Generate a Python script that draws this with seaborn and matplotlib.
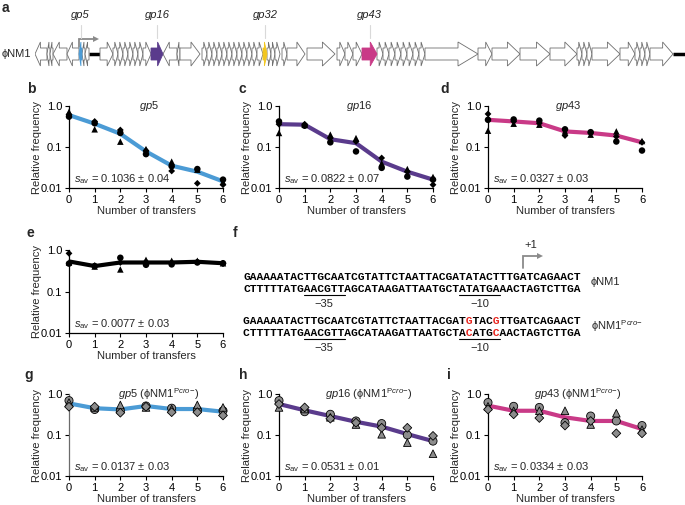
import matplotlib
matplotlib.use("Agg")
import matplotlib.pyplot as plt
import numpy as np
import pandas as pd
import seaborn as sns
from matplotlib.patches import Polygon
from matplotlib.ticker import NullLocator

# ---------------------------------------------------------------- data
TRANSFERS = [0, 1, 2, 3, 4, 5, 6]
Y_TICKS = [0.01, 0.1, 1.0]
Y_TICK_LABELS = ["0.01", "0.1", "1.0"]

# b: gp5
GP5_CIRCLE = [0.55, 0.38, 0.22, 0.067, 0.034, 0.029, 0.016]
GP5_TRIANGLE = [0.72, 0.27, 0.135, 0.089, 0.044, 0.028, 0.014]
GP5_DIAMOND = [0.62, 0.42, 0.26, 0.082, 0.026, 0.013, 0.012]
GP5_MEAN = [0.60, 0.37, 0.21, 0.078, 0.035, 0.025, 0.0145]

# c: gp16
GP16_CIRCLE = [0.42, 0.33, 0.13, 0.078, 0.031, 0.019, 0.016]
GP16_TRIANGLE = [0.22, 0.35, 0.20, 0.165, 0.040, 0.029, 0.0186]
GP16_DIAMOND = [0.36, 0.36, 0.165, 0.136, 0.054, 0.025, 0.012]
GP16_MEAN = [0.36, 0.35, 0.155, 0.124, 0.044, 0.025, 0.016]

# d: gp43
GP43_CIRCLE = [0.46, 0.47, 0.44, 0.27, 0.23, 0.136, 0.082]
GP43_TRIANGLE = [0.25, 0.37, 0.35, 0.24, 0.20, 0.24, 0.14]
GP43_DIAMOND = [0.64, 0.42, 0.38, 0.19, 0.22, 0.18, 0.13]
GP43_MEAN = [0.46, 0.42, 0.38, 0.24, 0.22, 0.19, 0.13]

# e: gp32
GP32_CIRCLE = [0.47, 0.41, 0.65, 0.44, 0.45, 0.50, 0.48]
GP32_TRIANGLE = [0.50, 0.40, 0.34, 0.58, 0.55, 0.55, 0.48]
GP32_DIAMOND = [0.83, 0.42, 0.50, 0.52, 0.50, 0.52, 0.47]
GP32_MEAN = [0.53, 0.41, 0.50, 0.50, 0.50, 0.52, 0.48]

# g: gp5 (phiNM1 Pcro-)
GP5M_CIRCLE = [0.69, 0.42, 0.39, 0.51, 0.45, 0.41, 0.39]
GP5M_TRIANGLE = [0.62, 0.47, 0.54, 0.47, 0.43, 0.54, 0.47]
GP5M_DIAMOND = [0.49, 0.49, 0.35, 0.49, 0.36, 0.36, 0.30]
GP5M_MEAN = [0.59, 0.45, 0.42, 0.51, 0.43, 0.43, 0.37]

# h: gp16 (phiNM1 Pcro-)
GP16M_CIRCLE = [0.69, 0.37, 0.32, 0.22, 0.19, 0.10, 0.071]
GP16M_TRIANGLE = [0.47, 0.43, 0.27, 0.18, 0.104, 0.065, 0.035]
GP16M_DIAMOND = [0.57, 0.47, 0.25, 0.20, 0.15, 0.15, 0.095]
GP16M_MEAN = [0.57, 0.40, 0.29, 0.21, 0.16, 0.105, 0.071]

# i: gp43 (phiNM1 Pcro-)
GP43M_CIRCLE = [0.62, 0.50, 0.47, 0.20, 0.29, 0.22, 0.17]
GP43M_TRIANGLE = [0.50, 0.39, 0.39, 0.39, 0.18, 0.34, 0.135]
GP43M_DIAMOND = [0.42, 0.32, 0.26, 0.17, 0.22, 0.11, 0.11]
GP43M_MEAN = [0.52, 0.39, 0.39, 0.27, 0.22, 0.22, 0.14]

# a: genome map, (start, end, strand, label) in map units
GENOME_GENES = [
    (0, 12, -1, ""), (12, 15, -1, ""), (15, 18, -1, ""), (18, 32, -1, ""),
    (32, 44, -1, ""), (44, 47, -1, "gp5"), (47, 50, -1, ""), (50, 54, -1, ""),
    (65, 78, 1, ""), (78, 83, 1, ""), (83, 88, 1, ""), (88, 93, 1, ""),
    (93, 98, 1, ""), (98, 103, 1, ""), (103, 108, 1, ""), (108, 116, 1, ""),
    (116, 128, 1, "gp16"), (128, 142, -1, ""), (142, 145, -1, ""),
    (145, 165, 1, ""), (167, 172, 1, ""), (172, 177, 1, ""), (177, 182, 1, ""),
    (182, 187, 1, ""), (187, 192, 1, ""), (192, 197, 1, ""), (197, 202, 1, ""),
    (202, 207, 1, ""), (207, 212, 1, ""), (212, 217, 1, ""), (217, 222, 1, ""),
    (222, 228, 1, ""), (228, 232, 1, "gp32"), (232, 236, 1, ""),
    (236, 240, 1, ""), (240, 245, 1, ""), (247, 252, 1, ""), (252, 270, 1, ""),
    (272, 300, 1, ""), (302, 310, 1, ""), (310, 318, 1, ""), (318, 327, 1, ""),
    (327, 342, 1, "gp43"), (342, 348, 1, ""), (348, 354, 1, ""),
    (354, 360, 1, ""), (360, 366, 1, ""), (366, 372, 1, ""), (372, 378, 1, ""),
    (378, 384, 1, ""), (384, 390, 1, ""), (390, 443, 1, ""), (443, 457, 1, ""),
    (457, 485, 1, ""), (485, 515, 1, ""), (515, 542, 1, ""), (542, 547, 1, ""),
    (547, 552, 1, ""), (552, 557, 1, ""), (557, 585, 1, ""), (585, 600, 1, ""),
    (600, 605, 1, ""), (605, 610, 1, ""), (610, 615, 1, ""), (615, 638, 1, ""),
]
GENOME_SPACERS = [(54, 65), (638, 650)]
GENE_COLORS = {"gp5": "#4b9bd5", "gp16": "#5a3b8c", "gp32": "#f2c61f", "gp43": "#c93a87"}

# f: promoter sequences
SEQ_WT_TOP = "GAAAAATACTTGCAATCGTATTCTAATTACGATATACTTTGATCAGAACT"
SEQ_WT_BOTTOM = "CTTTTTATGAACGTTAGCATAAGATTAATGCTATATGAAACTAGTCTTGA"
SEQ_MUT_TOP = "GAAAAATACTTGCAATCGTATTCTAATTACGATGTACGTTGATCAGAACT"
SEQ_MUT_BOTTOM = "CTTTTTATGAACGTTAGCATAAGATTAATGCTACATGCAACTAGTCTTGA"
BOX_35 = (9, 15)
BOX_10 = (32, 38)
TSS_INDEX = 41

W, H = 685, 505
GRAY_LINE = "#8a8a8a"


def px_axes(fig, x0, y0, x1, y1):
    return fig.add_axes([x0 / W, 1 - y1 / H, (x1 - x0) / W, (y1 - y0) / H])


def draw_selection(ax, circle, triangle, diamond, mean, color, title, s_av,
                   mutant=False, spine_color="black"):
    ax.set_yscale("log")
    sns.lineplot(x=TRANSFERS, y=mean, ax=ax, color=color, linewidth=3.0,
                 zorder=2, solid_capstyle="round", solid_joinstyle="round")
    df = pd.DataFrame({
        "transfer": TRANSFERS * 3,
        "freq": circle + triangle + diamond,
        "replicate": ["r1"] * 7 + ["r2"] * 7 + ["r3"] * 7,
    })
    if mutant:
        sizes = {"r1": 34, "r2": 30, "r3": 20}
        face, edge, lw = "#8c8c8c", "black", 0.6
    else:
        sizes = {"r1": 22, "r2": 22, "r3": 12}
        face, edge, lw = "black", "black", 0.0
    sns.scatterplot(data=df, x="transfer", y="freq", style="replicate",
                    markers={"r1": "o", "r2": "^", "r3": "D"},
                    size="replicate", sizes=sizes, color=face,
                    edgecolor=edge, linewidth=lw, legend=False, ax=ax,
                    zorder=3, clip_on=False)
    ax.set_xlim(0, 6)
    ax.set_ylim(0.01, 1.0)
    ax.set_xticks(TRANSFERS)
    ax.set_yticks(Y_TICKS)
    ax.set_yticklabels(Y_TICK_LABELS)
    ax.yaxis.set_minor_locator(NullLocator())
    ax.tick_params(labelsize=8, length=3, width=0.8, pad=2)
    ax.set_xlabel("Number of transfers", fontsize=8)
    ax.set_ylabel("Relative frequency", fontsize=8)
    ax.xaxis.set_label_coords(0.5, -0.22)
    ax.yaxis.set_label_coords(-0.175, 0.5)
    sns.despine(ax=ax)
    for side in ["left", "bottom"]:
        ax.spines[side].set_linewidth(0.9)
    ax.spines["left"].set_color(spine_color)
    ax.patch.set_alpha(0)
    if title:
        ax.text(0.58 if mutant else 0.52, 1.0, title, transform=ax.transAxes,
                ha="center", va="center", fontsize=8)
    ax.text(0.03, 0.11, r"$s_{\rm av}$ = " + s_av, transform=ax.transAxes,
            ha="left", va="center", fontsize=8)


def draw_genome(ax):
    body, head = 6, 12
    for start, end, strand, label in GENOME_GENES:
        length = end - start
        hl = min(0.45 * length, 20) if length > 9 else 0.65 * length
        if strand > 0:
            base, tip, neck = start, end, end - hl
        else:
            base, tip, neck = end, start, start + hl
        pts = [(base, -body), (neck, -body), (neck, -head), (tip, 0),
               (neck, head), (neck, body), (base, body)]
        if label:
            c = GENE_COLORS[label]
            ax.add_patch(Polygon(pts, closed=True, facecolor=c, edgecolor=c,
                                 linewidth=0.6, zorder=3))
            mid = (start + end) / 2
            ax.plot([mid, mid], [16, 29], color="#d9d9d9", lw=0.8, clip_on=False)
            ax.text(mid, 39, label, ha="center", va="center", fontsize=8,
                    style="italic", clip_on=False)
        else:
            ax.add_patch(Polygon(pts, closed=True, facecolor="white",
                                 edgecolor="#6e6e6e", linewidth=0.6, zorder=2))
    for start, end in GENOME_SPACERS:
        ax.plot([start, end], [0, 0], color="black", lw=2.5, zorder=1,
                solid_capstyle="butt")
    ax.set_xlim(0, 650)
    ax.set_ylim(-14, 14)
    ax.axis("off")


def bent_arrow(ax, x, y_low, y_high, length):
    ax.plot([x, x, x + length - 3], [y_low, y_high, y_high], color=GRAY_LINE,
            lw=1.3, solid_joinstyle="miter")
    ax.plot([x + length], [y_high], marker=">", color=GRAY_LINE, ms=4.5,
            markeredgewidth=0)


def draw_sequences(ov):
    x0, cw = 243.3, 6.75
    mono = dict(family="Liberation Mono", weight="bold", fontsize=8.1,
                va="center", ha="left")
    blocks = [(SEQ_WT_TOP, SEQ_WT_BOTTOM, 277, 289, 304, "ϕNM1"),
              (SEQ_MUT_TOP, SEQ_MUT_BOTTOM, 321, 333, 348,
               r"ϕNM1$^{\rm P\it{cro}\rm{-}}$")]
    for top, bottom, y_top, y_bot, y_lab, name in blocks:
        for seq, ref, y in [(top, SEQ_WT_TOP, y_top), (bottom, SEQ_WT_BOTTOM, y_bot)]:
            black = "".join(c if c == r else " " for c, r in zip(seq, ref))
            red = "".join(c if c != r else " " for c, r in zip(seq, ref))
            ov.text(x0, y, black, color="black", **mono)
            ov.text(x0, y, red, color="#e8261f", **mono)
        for (a, b), lab in [(BOX_35, "\u221235"), (BOX_10, "\u221210")]:
            ov.plot([x0 + a * cw, x0 + b * cw], [y_bot + 6, y_bot + 6],
                    color="black", lw=0.8)
            ov.text(x0 + (a + b) / 2 * cw, y_lab, lab, ha="center",
                    va="center", fontsize=8)
        ov.text(591, (y_top + y_bot) / 2 - 1, name, ha="left", va="center",
                fontsize=8)
    xt = x0 + (TSS_INDEX + 0.5) * cw
    bent_arrow(ov, xt, 268, 256, 17)
    ov.text(xt + 7, 245, "+1", ha="center", va="center", fontsize=8)


def main():
    sns.set_style("ticks")
    plt.rcParams["font.family"] = ["Liberation Sans", "DejaVu Sans"]
    plt.rcParams["mathtext.fontset"] = "custom"
    plt.rcParams["mathtext.rm"] = "Liberation Sans"
    plt.rcParams["mathtext.it"] = "Liberation Sans:italic"
    plt.rcParams["axes.edgecolor"] = "black"
    plt.rcParams["xtick.color"] = "black"
    plt.rcParams["ytick.color"] = "black"

    fig = plt.figure(figsize=(W / 100, H / 100), dpi=100)
    ov = fig.add_axes([0, 0, 1, 1])
    ov.set_xlim(0, W)
    ov.set_ylim(H, 0)
    ov.axis("off")

    ax_a = px_axes(fig, 35, 40, 685, 68)
    draw_genome(ax_a)
    ov.text(2, 54, "ϕNM1", ha="left", va="center", fontsize=8)
    bent_arrow(ov, 79, 47, 39, 17)

    draw_sequences(ov)

    panels = [
        ((69, 106, 223, 188), GP5_CIRCLE, GP5_TRIANGLE, GP5_DIAMOND, GP5_MEAN,
         GENE_COLORS["gp5"], "$gp5$", "0.1036 ± 0.04", False, "black"),
        ((279, 106, 433, 188), GP16_CIRCLE, GP16_TRIANGLE, GP16_DIAMOND, GP16_MEAN,
         GENE_COLORS["gp16"], "$gp16$", "0.0822 ± 0.07", False, "black"),
        ((488, 106, 642, 188), GP43_CIRCLE, GP43_TRIANGLE, GP43_DIAMOND, GP43_MEAN,
         GENE_COLORS["gp43"], "$gp43$", "0.0327 ± 0.03", False, "black"),
        ((69, 250, 223, 333), GP32_CIRCLE, GP32_TRIANGLE, GP32_DIAMOND, GP32_MEAN,
         "black", "", "0.0077 ± 0.03", False, "black"),
        ((69, 394, 223, 476), GP5M_CIRCLE, GP5M_TRIANGLE, GP5M_DIAMOND, GP5M_MEAN,
         GENE_COLORS["gp5"], r"$gp5$ (ϕNM1$^{\rm P\it{cro}\rm{-}}$)",
         "0.0137 ± 0.03", True, "#6b6b6b"),
        ((279, 394, 433, 476), GP16M_CIRCLE, GP16M_TRIANGLE, GP16M_DIAMOND, GP16M_MEAN,
         GENE_COLORS["gp16"], r"$gp16$ (ϕNM1$^{\rm P\it{cro}\rm{-}}$)",
         "0.0531 ± 0.01", True, "black"),
        ((488, 394, 642, 476), GP43M_CIRCLE, GP43M_TRIANGLE, GP43M_DIAMOND, GP43M_MEAN,
         GENE_COLORS["gp43"], r"$gp43$ (ϕNM1$^{\rm P\it{cro}\rm{-}}$)",
         "0.0334 ± 0.03", True, "black"),
    ]
    for box, c, t, d, m, color, title, s_av, mutant, spine in panels:
        ax = px_axes(fig, *box)
        draw_selection(ax, c, t, d, m, color, title, s_av, mutant, spine)

    letters = [("a", 2, 8), ("b", 27, 89), ("c", 239, 89), ("d", 440, 89),
               ("e", 27, 233), ("f", 233, 233), ("g", 24, 375),
               ("h", 239, 375), ("i", 447, 375)]
    for letter, x, y in letters:
        ov.text(x, y, letter, ha="left", va="center", fontsize=10,
                fontweight="bold")

    fig.savefig("out.png", dpi=100)
    plt.close(fig)


if __name__ == "__main__":
    main()
